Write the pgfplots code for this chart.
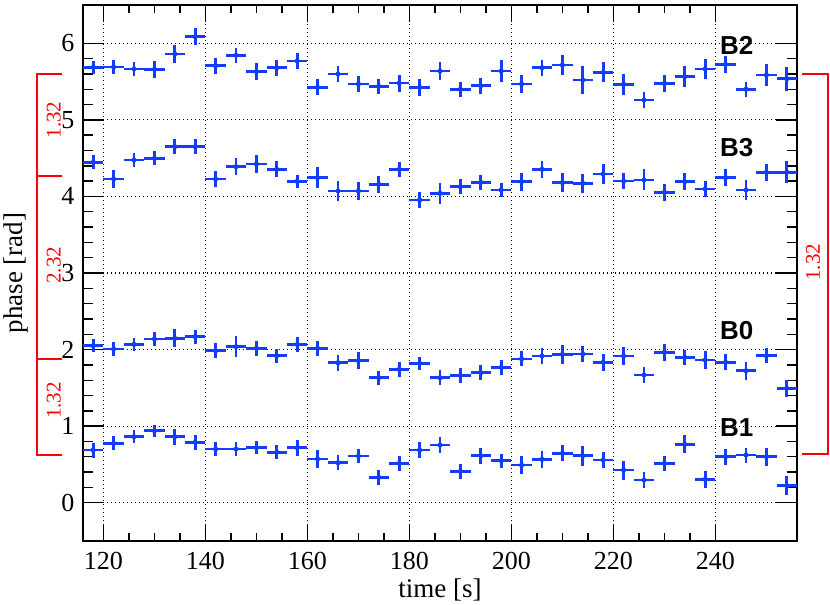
\documentclass[border=0pt]{standalone}
\usepackage{fontspec}
\setmainfont{Liberation Serif}
\newfontfamily\tms{Liberation Serif}
\newfontfamily\hel{Liberation Sans}
\usepackage{pgfplots}
\usepackage{pgfplotstable}
\pgfplotsset{compat=1.18}
\definecolor{ptblue}{RGB}{20,60,255}
\definecolor{ptred}{RGB}{255,0,0}

\pgfplotstableread{
x y ey
118 5.686 0.085
122 5.69 0.09
126 5.664 0.095
130 5.66 0.115
134 5.86 0.115
138 6.086 0.113
142 5.707 0.105
146 5.843 0.094
150 5.63 0.113
154 5.68 0.105
158 5.77 0.105
162 5.425 0.105
166 5.60 0.10
170 5.468 0.107
174 5.438 0.096
178 5.48 0.11
182 5.425 0.115
186 5.638 0.118
190 5.40 0.10
194 5.446 0.105
198 5.638 0.145
202 5.468 0.12
206 5.68 0.105
210 5.716 0.13
214 5.52 0.18
218 5.62 0.13
222 5.464 0.14
226 5.259 0.10
230 5.477 0.115
234 5.564 0.135
238 5.664 0.125
242 5.725 0.11
246 5.40 0.10
250 5.586 0.15
254 5.537 0.157
}\Btwo

\pgfplotstableread{
x y ey
118 4.446 0.094
122 4.228 0.118
126 4.476 0.087
130 4.497 0.09
134 4.65 0.10
138 4.65 0.10
142 4.228 0.107
146 4.388 0.113
150 4.423 0.12
154 4.354 0.105
158 4.197 0.087
162 4.245 0.133
166 4.071 0.126
170 4.071 0.113
174 4.158 0.113
178 4.354 0.10
182 3.953 0.105
186 4.041 0.135
190 4.127 0.096
194 4.184 0.10
198 4.084 0.09
202 4.193 0.118
206 4.354 0.11
210 4.18 0.122
214 4.171 0.126
218 4.293 0.126
222 4.20 0.105
226 4.215 0.137
230 4.054 0.11
234 4.193 0.113
238 4.097 0.10
242 4.245 0.113
246 4.084 0.126
250 4.315 0.11
254 4.315 0.146
}\Bthree

\pgfplotstableread{
x y ey
118 2.05 0.087
122 2.007 0.094
126 2.068 0.083
130 2.138 0.087
134 2.147 0.118
138 2.168 0.094
142 1.985 0.10
146 2.037 0.14
150 2.016 0.10
154 1.92 0.094
158 2.068 0.098
162 2.016 0.096
166 1.828 0.107
170 1.854 0.11
174 1.633 0.09
178 1.742 0.10
182 1.82 0.083
186 1.633 0.10
190 1.662 0.098
194 1.698 0.10
198 1.768 0.098
202 1.877 0.098
206 1.916 0.105
210 1.938 0.126
214 1.942 0.11
218 1.834 0.11
222 1.916 0.113
226 1.668 0.11
230 1.964 0.115
234 1.899 0.098
238 1.864 0.115
242 1.834 0.107
246 1.724 0.12
250 1.92 0.10
254 1.494 0.113
}\Bzero

\pgfplotstableread{
x y ey
118 0.688 0.098
122 0.776 0.09
126 0.862 0.085
130 0.94 0.08
134 0.862 0.107
138 0.789 0.10
142 0.701 0.09
146 0.701 0.09
150 0.718 0.085
154 0.658 0.09
158 0.718 0.105
162 0.571 0.12
166 0.522 0.096
170 0.61 0.096
174 0.331 0.098
178 0.514 0.098
182 0.688 0.11
186 0.754 0.105
190 0.41 0.096
194 0.614 0.105
198 0.549 0.09
202 0.492 0.12
206 0.566 0.11
210 0.645 0.105
214 0.614 0.128
218 0.557 0.11
222 0.427 0.124
226 0.296 0.11
230 0.514 0.10
234 0.762 0.118
238 0.305 0.11
242 0.60 0.105
246 0.623 0.098
250 0.60 0.12
254 0.222 0.122
}\Bone

\pgfplotsset{ptdata/.style={ptblue, only marks, mark=*, mark size=2.3pt,
  error bars/.cd, x dir=both, x fixed=2, y dir=both, y explicit,
  error mark=none, error bar style={line width=2.7pt, ptblue}}}

\begin{document}
\begin{tikzpicture}
\begin{axis}[
  scale only axis,
  width=714pt, height=536pt,
  xmin=116, xmax=256, ymin=-0.5, ymax=6.5,
  xtick={120,140,...,240}, ytick={0,1,...,6},
  minor x tick num=3, minor y tick num=4,
  tick align=inside, tick pos=both, ticklabel pos=left,
  axis line style={line width=1.8pt, black},
  every tick/.style={black, line width=1.4pt},
  major tick length=19pt, minor tick length=10pt,
  xtick style={/pgfplots/major tick length=16.5pt, /pgfplots/minor tick length=8.3pt},
  ytick style={/pgfplots/major tick length=21pt, /pgfplots/minor tick length=10.5pt},
  grid=major,
  major grid style={black, line width=1.1pt, dash pattern=on 1.3pt off 2.7pt},
  /pgf/number format/assume math mode=true,
  tick label style={font=\tms\fontsize{26}{30}\selectfont},
  xticklabel style={anchor=north, inner sep=0pt, yshift=-11.5pt},
  yticklabel style={anchor=east, inner sep=0pt, xshift=-8.5pt},
  xlabel={time [s]}, ylabel={phase [rad]},
  every axis x label/.style={at={(axis description cs:0.5,-0.1045)}, anchor=base, inner sep=0pt, font=\tms\fontsize{27}{32}\selectfont},
  every axis y label/.style={at={(axis description cs:-0.0847,0.5)}, rotate=90, anchor=base, inner sep=0pt, font=\tms\fontsize{27}{32}\selectfont},
  clip=false,
]
\addplot[ptdata] table[x=x, y=y, y error=ey] {\Btwo};
\addplot[ptdata] table[x=x, y=y, y error=ey] {\Bthree};
\addplot[ptdata] table[x=x, y=y, y error=ey] {\Bzero};
\addplot[ptdata] table[x=x, y=y, y error=ey] {\Bone};
% labels
\node[font=\hel\bfseries\fontsize{26}{30}\selectfont, anchor=base west, inner sep=0pt] at (axis cs:240.9,5.856) {B2};
\node[font=\hel\bfseries\fontsize{26}{30}\selectfont, anchor=base west, inner sep=0pt] at (axis cs:240.9,4.519) {B3};
\node[font=\hel\bfseries\fontsize{26}{30}\selectfont, anchor=base west, inner sep=0pt] at (axis cs:240.9,2.134) {B0};
\node[font=\hel\bfseries\fontsize{26}{30}\selectfont, anchor=base west, inner sep=0pt] at (axis cs:240.9,0.871) {B1};
% red brackets
\draw[ptred, line width=2pt] (axis cs:111.88,5.6) -- (axis cs:106.92,5.6) -- (axis cs:106.92,0.623) -- (axis cs:111.88,0.623);
\draw[ptred, line width=2pt] (axis cs:106.92,4.267) -- (axis cs:111.88,4.267);
\draw[ptred, line width=2pt] (axis cs:106.92,1.881) -- (axis cs:111.88,1.881);
\draw[ptred, line width=2pt] (axis cs:256.92,5.6) -- (axis cs:262.0,5.6) -- (axis cs:262.0,0.632) -- (axis cs:256.92,0.632);
\node[ptred, rotate=90, anchor=base, inner sep=0pt, font=\tms\fontsize{21}{25}\selectfont] at (axis cs:111.6,4.998) {1.32};
\node[ptred, rotate=90, anchor=base, inner sep=0pt, font=\tms\fontsize{21}{25}\selectfont] at (axis cs:111.6,3.10) {2.32};
\node[ptred, rotate=90, anchor=base, inner sep=0pt, font=\tms\fontsize{21}{25}\selectfont] at (axis cs:111.6,1.335) {1.32};
\node[ptred, rotate=90, anchor=base, inner sep=0pt, font=\tms\fontsize{21}{25}\selectfont] at (axis cs:260.5,3.14) {1.32};
\end{axis}
\pgfresetboundingbox
\path[use as bounding box] (-83pt,-64pt) rectangle (747pt,541pt);
\end{tikzpicture}
\end{document}
